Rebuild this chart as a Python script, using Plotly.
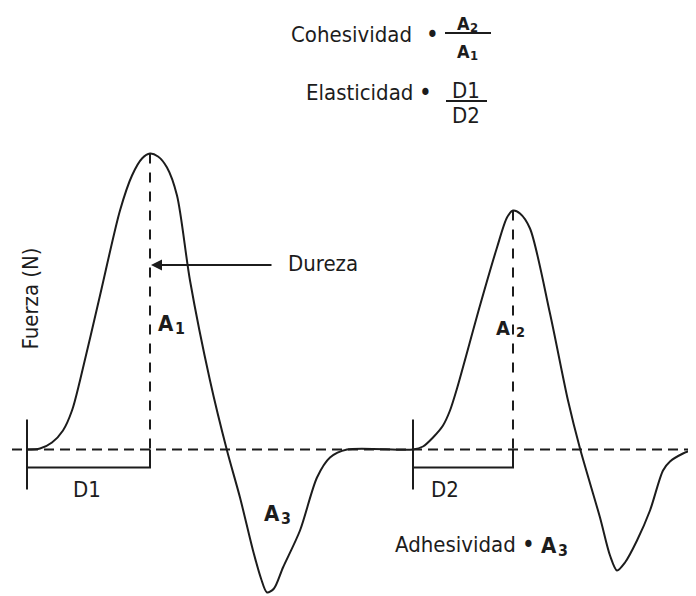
import numpy as np
import plotly.graph_objects as go

# texture profile curve, first and second compression (x = time, y = force)
t1 = [27, 40, 52, 63, 72, 80, 100, 120, 132, 142, 150, 158, 167, 177, 190, 210,
      227, 240, 253, 261, 267, 274, 283, 300, 317, 330, 347, 413]
f1 = [0, 1, 7, 19, 39, 69, 154, 239, 274, 291, 296, 293, 282, 254, 169, 69,
      -1, -48, -101, -129, -143, -139, -118, -81, -28, -8, 0, 0]
t2 = [413, 423, 433, 443, 450, 457, 480, 497, 507, 513, 520, 530, 550, 568, 580,
      600, 610, 617, 625, 637, 650, 663, 670, 683, 696]
f2 = [1, 3, 12, 24, 39, 61, 144, 202, 232, 239, 236, 221, 136, 49, 1,
      -68, -106, -121, -113, -91, -61, -21, -12, -4, 1]

FONT = "DejaVu Sans Condensed, DejaVu Sans"
INK = "#1c1c1c"

p1 = t1[int(np.argmax(f1))]
p2 = t2[int(np.argmax(f2))]

fig = go.Figure()
fig.add_trace(go.Scatter(x=t1 + t2[1:], y=f1 + f2[1:], mode="lines",
                         line=dict(color=INK, width=2, shape="spline", smoothing=0.8),
                         hoverinfo="skip"))

shapes = []
# dashed zero line
shapes.append(dict(type="line", x0=12, x1=700, y0=0, y1=0,
                   line=dict(color=INK, width=2, dash="10px,6px")))
for start, peak, top in [(t1[0], p1, max(f1)), (t2[0], p2, max(f2))]:
    # dashed line from peak down
    shapes.append(dict(type="line", x0=peak, x1=peak, y0=top, y1=0,
                       line=dict(color=INK, width=2, dash="10px,9px")))
    # start tick
    shapes.append(dict(type="line", x0=start, x1=start, y0=30, y1=-40,
                       line=dict(color=INK, width=2)))
    # D bracket
    shapes.append(dict(type="path", path=f"M {start},-18 L {peak},-18 L {peak},0",
                       line=dict(color=INK, width=2)))
# fraction bars
shapes.append(dict(type="line", x0=445, x1=491, y0=416.5, y1=416.5, line=dict(color=INK, width=2)))
shapes.append(dict(type="line", x0=446, x1=487, y0=348.5, y1=348.5, line=dict(color=INK, width=2)))


def txt(x, y, s, size=22, anchor="left", angle=0, weight="normal"):
    return dict(x=x, y=y, text=s, showarrow=False, xanchor=anchor, yanchor="middle",
                textangle=angle, font=dict(family=FONT, size=size, color=INK, weight=weight))


def area(x, y, sub, size=22, gap=0.62):
    # bold "A" with a lowered index
    return [txt(x, y, "A", size=size, anchor="center", weight="bold"),
            txt(x + size * gap, y - size * 0.22, sub, size=size * 0.72,
                anchor="center", weight="bold")]


anns = [
    txt(289, 415, "Cohesividad"),
    txt(432, 415, "•", size=24, anchor="center"),
    txt(304, 357, "Elasticidad"),
    txt(425, 357, "•", size=24, anchor="center"),
    txt(466, 359, "D1", anchor="center"),
    txt(466, 334, "D2", anchor="center"),
    txt(286, 186, "Dureza"),
    txt(30, 151, "Fuerza (N)", angle=-90, anchor="center"),
    txt(393, -95, "Adhesividad"),
    txt(528, -95, "•", size=24, anchor="center"),
    txt(87, -40, "D1", anchor="center"),
    txt(445, -40, "D2", anchor="center"),
    dict(x=p1 + 1, y=184.5, ax=273, ay=184.5, axref="x", ayref="y", text="",
         showarrow=True, arrowhead=2, arrowsize=1.1, arrowwidth=2, arrowcolor=INK),
]
anns += area(463, 426, "2", size=18)
anns += area(463, 398, "1", size=18)
anns += area(166, 126, "1")
anns += area(272, -64, "3")
anns += area(549, -96, "3")
anns += area(503, 122, "2", size=20, gap=0.88)

# page body has an 8px margin, so the figure shows reference pixels 8..696 / 8..596
fig.update_layout(
    width=688, height=588, margin=dict(l=0, r=0, t=0, b=0),
    paper_bgcolor="white", plot_bgcolor="white", showlegend=False,
    xaxis=dict(range=[8, 696], visible=False, fixedrange=True),
    yaxis=dict(range=[-146.5, 441.5], visible=False, fixedrange=True),
    shapes=shapes, annotations=anns,
)
fig.write_html("out.html", config={"displayModeBar": False})
